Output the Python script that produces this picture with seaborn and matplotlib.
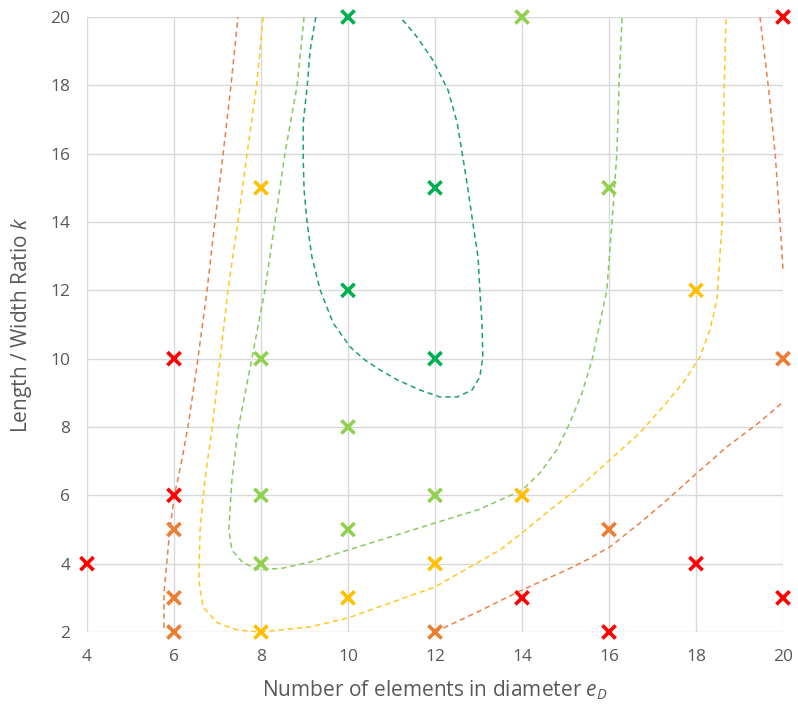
import matplotlib
matplotlib.use("Agg")
import matplotlib.pyplot as plt
import seaborn as sns
import pandas as pd

# ---- data: simulation points (e_D, k) grouped by rating ----
red_x = [4, 6, 6, 14, 16, 18, 20, 20]
red_y = [4, 10, 6, 3, 2, 4, 3, 20]
orange_x = [6, 6, 6, 12, 16, 20]
orange_y = [5, 3, 2, 2, 5, 10]
yellow_x = [8, 8, 10, 12, 14, 18]
yellow_y = [15, 2, 3, 4, 6, 12]
lgreen_x = [14, 8, 10, 8, 10, 8, 12, 16]
lgreen_y = [20, 10, 8, 6, 5, 4, 6, 15]
dgreen_x = [10, 12, 10, 12]
dgreen_y = [20, 15, 12, 10]

# ---- data: dashed boundary curves ----
c_orange1_x = [5.77, 5.77, 5.84, 5.91, 6.02, 6.18, 6.32, 6.48, 6.55, 6.76, 6.94, 7.13, 7.31, 7.47]
c_orange1_y = [2.12, 3.14, 4.11, 5.07, 6.07, 7.03, 8.0, 9.38, 10, 12, 14, 16, 18, 20]
c_orange2_x = [12, 13, 14, 15, 15.49, 16.02, 16.71, 17.33, 18.02, 18.71, 19.47, 20]
c_orange2_y = [2.0, 2.6, 3.23, 3.8, 4.11, 4.49, 5.19, 5.86, 6.65, 7.42, 8.15, 8.73]
c_orange3_x = [19.47, 19.66, 19.82, 19.93, 20.0]
c_orange3_y = [20, 18, 16, 14, 12.6]
c_yellow_x = [8.05, 7.9, 7.68, 7.47, 7.24, 7.06, 6.87, 6.71, 6.60, 6.57, 6.67, 6.99, 7.45, 7.98,
              9.13, 10.0, 12.0, 13.49, 14.0, 14.64, 15.33, 16.02, 16.71, 17.24, 17.70, 18.09,
              18.32, 18.48, 18.55, 18.6, 18.62, 18.65, 18.69]
c_yellow_y = [20, 18, 16, 14, 12, 10, 7.91, 6.45, 4.99, 3.52, 2.73, 2.27, 2.06, 2.0,
              2.15, 2.41, 3.32, 4.40, 4.90, 5.57, 6.25, 7.04, 7.83, 8.59, 9.29, 10.05,
              10.84, 11.72, 13, 14, 16, 18, 20]
c_lgreen_x = [8.99, 8.83, 8.55, 8.32, 8.09, 7.79, 7.47, 7.33, 7.26, 7.33, 7.59, 7.98, 8.51, 9.13,
              10.0, 12.0, 13.0, 13.49, 14.0, 14.41, 14.80, 15.10, 15.38, 15.61, 15.79, 15.95,
              16.07, 16.18, 16.23, 16.3]
c_lgreen_y = [20, 18, 16, 14, 12, 10, 7.91, 6.45, 4.99, 4.40, 4.02, 3.82, 3.87, 4.05,
              4.4, 5.19, 5.58, 5.86, 6.15, 6.65, 7.33, 8.12, 9.0, 9.96, 11.04, 12,
              14, 16, 18, 20]
c_teal_x = [9.26, 9.13, 9.06, 8.97, 8.97, 8.99, 9.06, 9.17, 9.36, 9.66, 10.05, 10.39, 10.74,
            11.13, 11.66, 12.11, 12.51, 12.85, 13.03, 13.10, 13.08, 13.03, 12.99, 12.87, 12.76,
            12.64, 12.51, 12.30, 11.95, 11.59, 11.2]
c_teal_y = [20, 19.03, 17.95, 16.9, 15.9, 14.94, 13.97, 12.98, 12.01, 11.04, 10.34, 9.96, 9.67,
            9.38, 9.08, 8.88, 8.88, 9.08, 9.46, 10.05, 11.04, 12.01, 12.98, 13.97, 14.94,
            15.9, 16.9, 17.86, 18.74, 19.41, 20]

x_ticks = [4, 6, 8, 10, 12, 14, 16, 18, 20]
y_ticks = [2, 4, 6, 8, 10, 12, 14, 16, 18, 20]

# ---- build tables ----
groups = [("red", red_x, red_y), ("orange", orange_x, orange_y), ("yellow", yellow_x, yellow_y),
          ("lgreen", lgreen_x, lgreen_y), ("dgreen", dgreen_x, dgreen_y)]
pts = pd.concat([pd.DataFrame({"x": gx, "y": gy, "g": name}) for name, gx, gy in groups],
                ignore_index=True)
marker_pal = {"red": "#FF0000", "orange": "#ED7D31", "yellow": "#FFC000",
              "lgreen": "#92D050", "dgreen": "#00B050"}

curves = [("o1", c_orange1_x, c_orange1_y), ("o2", c_orange2_x, c_orange2_y),
          ("o3", c_orange3_x, c_orange3_y), ("y", c_yellow_x, c_yellow_y),
          ("lg", c_lgreen_x, c_lgreen_y), ("t", c_teal_x, c_teal_y)]
cdf = pd.concat([pd.DataFrame({"x": cx, "y": cy, "c": name})
                 for name, cx, cy in curves], ignore_index=True)
curve_pal = {"o1": "#E8844A", "o2": "#E8844A", "o3": "#E8844A",
             "y": "#FFC820", "lg": "#8CC660", "t": "#1E9E78"}

sns.set_theme(style="white")
plt.rcParams["font.family"] = ["Open Sans", "DejaVu Sans"]
plt.rcParams["mathtext.fontset"] = "custom"
plt.rcParams["mathtext.it"] = "Open Sans:italic"
plt.rcParams["mathtext.rm"] = "Open Sans"

fig = plt.figure(figsize=(7.98, 7.10), dpi=100)
ax = fig.add_axes([87 / 798, 1 - 632 / 710, (783 - 87) / 798, (632 - 17) / 710])

sns.lineplot(data=cdf, x="x", y="y", hue="c", units="c", estimator=None, sort=False,
             palette=curve_pal, linewidth=1.1, legend=False, ax=ax, zorder=3)
for line in ax.lines:
    line.set_dashes((3.5, 2.5))
    line.set_clip_on(False)
    line.set_solid_joinstyle("round")
    line.set_dash_joinstyle("round")

sns.scatterplot(data=pts, x="x", y="y", hue="g", palette=marker_pal, marker="x",
                s=90, linewidth=2.6, legend=False, ax=ax, zorder=4, clip_on=False)

ax.set_xlim(4, 20)
ax.set_ylim(2, 20)
ax.set_xticks(x_ticks)
ax.set_yticks(y_ticks)
ax.grid(True, color="#D9D9D9", linewidth=1.0)
for s in ax.spines.values():
    s.set_visible(False)
ax.tick_params(axis="both", length=0, labelsize=12.5, labelcolor="#595959", pad=12)
ax.set_xlabel(r"Number of elements in diameter $e_{\mathit{D}}$", fontsize=15, color="#595959",
              labelpad=10)
ax.set_ylabel(r"Length / Width Ratio $k$", fontsize=15, color="#595959", labelpad=12)

fig.savefig("out.png", dpi=100)
